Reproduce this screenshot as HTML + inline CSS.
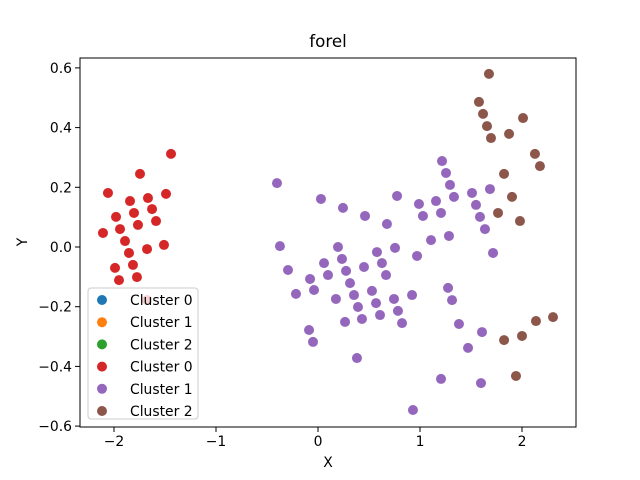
<!DOCTYPE html>
<html><head><meta charset="utf-8"><style>
body{margin:0;background:#fff}
svg{display:block;font-family:"DejaVu Sans","Liberation Sans",sans-serif}
</style></head><body>
<svg id="chart" width="640" height="480" viewBox="0 0 640 480">
<rect width="640" height="480" fill="#fff"/>
<text x="328" y="47" font-size="16.7" text-anchor="middle">forel</text>
<g id="marks"></g>
<rect x="80" y="58" width="496" height="369" fill="none" stroke="#000" stroke-width="1"/>
<g id="axes"></g>
<text x="328" y="467" font-size="13.9" text-anchor="middle">X</text>
<text x="27" y="242" font-size="13.9" text-anchor="middle" transform="rotate(-90 27 242)">Y</text>
<g id="legend"></g>
</svg>
<script>
const xTicks=[-2,-1,0,1,2];
const yTicks=[-0.6,-0.4,-0.2,0.0,0.2,0.4,0.6];
const xTickLabels=["−2","−1","0","1","2"];
const yTickLabels=["−0.6","−0.4","−0.2","0.0","0.2","0.4","0.6"];
const legendLabels=["Cluster 0","Cluster 1","Cluster 2","Cluster 0","Cluster 1","Cluster 2"];
const legendColors=["#1f77b4","#ff7f0e","#2ca02c","#d62728","#9467bd","#8c564b"];
const redX=[-1.441,-1.745,-2.059,-1.490,-1.843,-1.667,-1.627,-1.804,-1.980,-1.588,-1.765,-1.941,-2.108,-1.892,-1.676,-1.510,-1.853,-1.814,-1.990,-1.775,-1.951,-1.676];
const redY=[0.312,0.245,0.181,0.178,0.154,0.164,0.127,0.114,0.101,0.087,0.074,0.060,0.047,0.020,-0.007,0.007,-0.020,-0.060,-0.070,-0.101,-0.111,-0.178];
const purpleX=[1.216,1.255,1.294,1.333,-0.402,0.029,0.245,0.461,0.775,0.676,0.990,1.157,1.029,1.206,-0.373,0.196,0.578,0.755,1.108,1.284,0.971,0.235,0.059,0.627,-0.294,0.098,0.275,0.451,0.667,-0.078,-0.039,0.314,-0.216,0.176,0.353,0.529,0.569,0.745,0.922,1.275,1.314,0.392,0.784,0.265,0.431,0.608,0.824,-0.088,-0.049,0.382,1.206,0.931,1.382,1.510,1.686,1.549,1.588,1.637,1.716,1.608,1.471,1.598];
const purpleY=[0.288,0.248,0.208,0.168,0.214,0.161,0.131,0.104,0.171,0.077,0.144,0.154,0.104,0.114,0.003,0,-0.017,-0.003,0.023,0.037,-0.030,-0.040,-0.054,-0.054,-0.077,-0.094,-0.080,-0.067,-0.094,-0.107,-0.144,-0.121,-0.157,-0.174,-0.161,-0.147,-0.188,-0.174,-0.161,-0.137,-0.178,-0.201,-0.214,-0.251,-0.241,-0.228,-0.255,-0.278,-0.318,-0.372,-0.442,-0.546,-0.258,0.181,0.194,0.141,0.101,0.060,-0.020,-0.285,-0.338,-0.456];
const brownX=[1.676,1.578,1.618,1.657,1.696,2.010,1.873,2.127,2.176,1.824,1.902,1.765,1.980,2.304,2.137,2.000,1.824,1.941];
const brownY=[0.580,0.486,0.446,0.405,0.365,0.432,0.379,0.312,0.271,0.245,0.168,0.114,0.087,-0.235,-0.248,-0.298,-0.312,-0.432];

const NS="http://www.w3.org/2000/svg";
const sx=v=>318+v*102;
const sy=v=>247-v*298.5;
function mk(tag,attrs,parent){const e=document.createElementNS(NS,tag);for(const k in attrs)e.setAttribute(k,attrs[k]);parent.appendChild(e);return e;}
const marks=document.getElementById('marks');
function series(xs,ys,color,name){
  for(let i=0;i<xs.length;i++){
    const c=mk('circle',{cx:sx(xs[i]),cy:sy(ys[i]),r:5,fill:color},marks);
    
    
  }
}
series(redX,redY,"#d62728","cluster-0");
series(purpleX,purpleY,"#9467bd","cluster-1");
series(brownX,brownY,"#8c564b","cluster-2");
const axes=document.getElementById('axes');
xTicks.forEach((t,i)=>{
  const l=mk('line',{x1:sx(t),x2:sx(t),y1:427,y2:432,stroke:'#000'},axes);
  
  
  const tx=mk('text',{x:sx(t),y:446,'font-size':13.9,'text-anchor':'middle'},axes);
  tx.textContent=xTickLabels[i];
  
  
});
yTicks.forEach((t,i)=>{
  const l=mk('line',{x1:75,x2:80,y1:sy(t),y2:sy(t),stroke:'#000'},axes);
  
  
  const tx=mk('text',{x:72,y:sy(t)+5,'font-size':13.9,'text-anchor':'end'},axes);
  tx.textContent=yTickLabels[i];
  
  
});
const lg=document.getElementById('legend');


mk('rect',{x:88,y:288,width:110,height:131,rx:3,fill:'#fff','fill-opacity':0.8,stroke:'#ccc'},lg);
legendLabels.forEach((lab,i)=>{
  const y=300+i*22.2;
  const c=mk('circle',{cx:102,cy:y,r:5,fill:legendColors[i]},lg);
  
  
  const t=mk('text',{x:130,y:y+5,'font-size':13.9},lg);
  t.textContent=lab;
  
  
});
</script>
</body></html>
